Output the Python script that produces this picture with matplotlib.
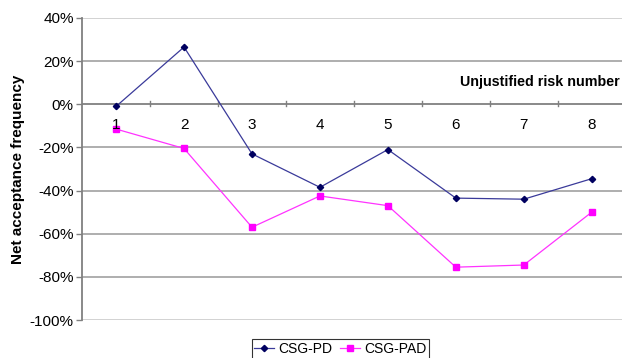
import matplotlib
matplotlib.use("Agg")
import matplotlib.pyplot as plt
from matplotlib.ticker import FuncFormatter, FixedLocator

plt.rcParams['font.family'] = ['Liberation Sans', 'DejaVu Sans']

categories = [1, 2, 3, 4, 5, 6, 7, 8]
csg_pd = [-1, 26.5, -23, -38.5, -21, -43.5, -44, -34.5]
csg_pad = [-11.5, -20.5, -57, -42.5, -47, -75.5, -74.5, -50]
y_ticks = [40, 20, 0, -20, -40, -60, -80, -100]

fig = plt.figure(figsize=(6.22, 3.58), dpi=100)
ax = fig.add_axes([0.132, 0.106, 0.874, 0.844])

for t in y_ticks:
    if t == 0:
        continue
    col = '#a8a8a8' if t not in (40, -100) else '#cfcfcf'
    ax.axhline(t, color=col, lw=1.3, zorder=0)
ax.axhline(0, color='#808080', lw=1.3, zorder=1)

# minor tick marks on the zero line between categories
for xb in [1.5, 2.5, 3.5, 4.5, 5.5, 6.5, 7.5]:
    ax.plot([xb, xb], [-0.9, 1.4], color='#808080', lw=1, zorder=1)

ax.plot(categories, csg_pd, color='#3a3a9a', lw=0.9, marker='D', ms=3.2,
        mfc='#000060', mec='#000060', label='CSG-PD', zorder=3)
ax.plot(categories, csg_pad, color='#ff33ff', lw=0.9, marker='s', ms=4,
        mfc='#ff00ff', mec='#ff00ff', label='CSG-PAD', zorder=3)

ax.set_xlim(0.5, 8.5)
ax.set_ylim(-100, 40)
ax.yaxis.set_major_locator(FixedLocator(y_ticks))
ax.yaxis.set_major_formatter(FuncFormatter(lambda v, p: f"{int(v)}%"))
ax.tick_params(axis='y', labelsize=11, length=4, color='#808080', width=1, pad=2)
ax.set_xticks([])
for c in categories:
    ax.text(c, -9.5, str(c), ha='center', va='center', fontsize=11)

for s in ['top', 'right', 'bottom']:
    ax.spines[s].set_visible(False)
ax.spines['left'].set_color('#808080')
ax.spines['left'].set_linewidth(1.3)

ax.set_ylabel('Net acceptance frequency', fontsize=11, fontweight='bold', labelpad=2)
ax.yaxis.set_label_coords(-0.105, 0.5)
ax.text(0.997, 1 - 82 / 358, 'Unjustified risk number', transform=fig.transFigure,
        ha='right', va='center', fontsize=10.3, fontweight='bold')

leg = fig.legend(loc='upper center', bbox_to_anchor=(0.547, 1 - 339 / 358), ncol=2,
                 fontsize=10, frameon=True, fancybox=False, edgecolor='#000000',
                 handlelength=1.4, columnspacing=0.6, handletextpad=0.3,
                 borderpad=0.2, borderaxespad=0.0)
leg.get_frame().set_linewidth(0.8)

fig.savefig('out.png', dpi=100)
